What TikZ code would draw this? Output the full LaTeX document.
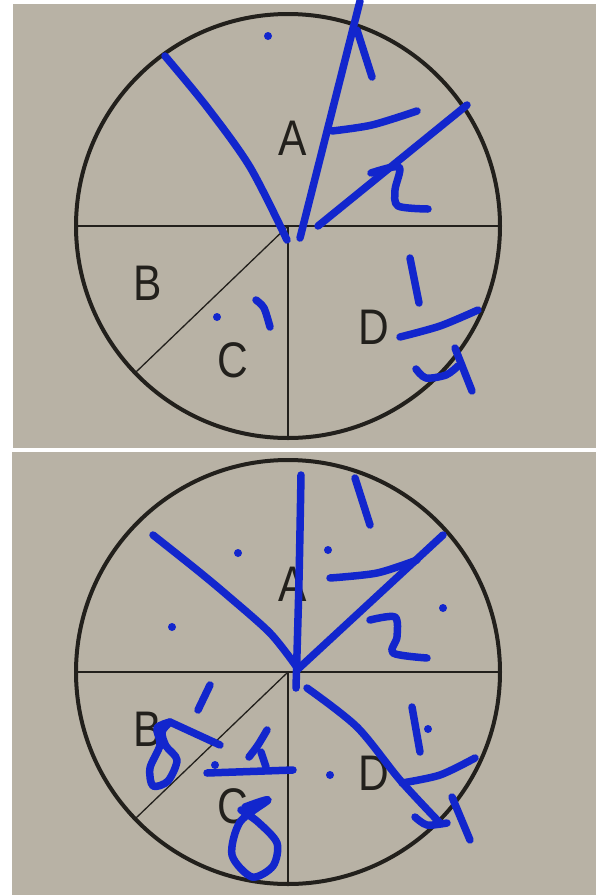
\documentclass[tikz,border=0pt]{standalone}
\usepackage{fontspec}
\setmainfont{Liberation Sans}
\definecolor{paper}{RGB}{184,178,165}
\definecolor{pen}{RGB}{18,38,205}
\definecolor{printed}{RGB}{34,32,28}
\tikzset{
  ink/.style={pen, line width=7.5pt, line cap=round, line join=round},
  inkdot/.style={pen, fill=pen},
  rim/.style={printed, line width=4pt},
  spoke/.style={printed, line width=1.3pt},
  letter/.style={text=printed, font=\fontsize{50}{50}\selectfont, xscale=0.85, inner sep=0pt}
}
\begin{document}
\begin{tikzpicture}[x=1pt,y=-1pt]
    \useasboundingbox (0,0) rectangle (596,895);
    \fill[white] (0,0) rectangle (596,895);
    \fill[paper] (13,4) rectangle (596,448);
    \fill[paper] (12,452) rectangle (596,895);
    % printed circles, the same twice
    \foreach \cy/\n in {226/top,672/bot}{
        \coordinate (O\n) at (288,\cy);
        \draw[spoke] (O\n) ++(-211,0) -- ++(422,0);
        \draw[spoke] (O\n) -- ++(0,211);
        \draw[spoke] (O\n) -- ++(-152,146);
        \draw[rim] (O\n) circle[radius=212];
        \path (O\n) ++(5,-88) node[letter] (A\n) {A};
        \path (O\n) ++(-140,57) node[letter] (B\n) {B};
        \path (O\n) ++(-55,134) node[letter] (C\n) {C};
        \path (O\n) ++(86,101) node[letter] (D\n) {D};
    }
    % pen marks, top
    \draw[ink] plot[smooth] coordinates {(165,56) (207,107) (250,167) (287,240)};
    \draw[ink] (360,1) -- (300,238);
    \draw[ink] (357,30) -- (372,77);
    \draw[ink] plot[smooth] coordinates {(332,131) (372,125) (417,111)};
    \draw[ink] (318,226) -- (467,105);
    \draw[ink] plot[smooth] coordinates {(371,173) (399,167) (395,190) (398,206) (428,209)};
    \fill[inkdot] (268,36) circle[radius=4];
    \fill[inkdot] (217,317) circle[radius=4];
    \draw[ink] plot[smooth] coordinates {(256,300) (264,308) (270,327)};
    \draw[ink] (410,258) -- (419,303);
    \draw[ink] plot[smooth] coordinates {(400,337) (440,326) (478,310)};
    \draw[ink] plot[smooth] coordinates {(416,369) (426,378) (446,375) (458,366)};
    \draw[ink] (455,348) -- (472,391);
    % pen marks, bottom
    \draw[ink] plot[smooth] coordinates {(153,535) (197,570) (227,595) (270,633) (296,666)};
    \draw[ink] plot[smooth] coordinates {(301,475) (299,580) (296,688)};
    \draw[ink] (297,670) -- (443,535);
    \draw[ink] (355,478) -- (370,525);
    \draw[ink] plot[smooth] coordinates {(330,578) (377,573) (417,560)};
    \draw[ink] plot[smooth] coordinates {(370,620) (395,617) (397,637) (393,653) (427,658)};
    \draw[ink] plot[smooth] coordinates {(307,688) (357,727) (400,780) (440,823)};
    \draw[ink] (412,707) -- (420,752);
    \draw[ink] plot[smooth] coordinates {(402,783) (440,775) (475,758)};
    \draw[ink] plot[smooth] coordinates {(415,817) (427,825) (447,823)};
    \draw[ink] (452,797) -- (470,840);
    \draw[ink] (210,685) -- (198,710);
    \draw[ink] (220,745) -- (170,722);
    \draw[ink] plot[smooth] coordinates {(170,722) (157,728) (160,745) (150,768) (153,786) (168,781) (177,760) (166,746) (162,732) (170,722)};
    \draw[ink] plot[smooth] coordinates {(267,730) (258,745) (249,757)};
    \draw[ink] (261,752) -- (266,767);
    \draw[ink] (207,773) -- (293,770);
    \draw[ink] plot[smooth] coordinates {(245,807) (268,800) (240,822) (232,855) (252,877) (273,866) (277,843) (258,822) (241,810)};
    \foreach \p in {(238,553),(328,550),(172,627),(443,608),(428,729),(330,775),(215,765)}
        \fill[inkdot] \p circle[radius=4];
\end{tikzpicture}
\end{document}
